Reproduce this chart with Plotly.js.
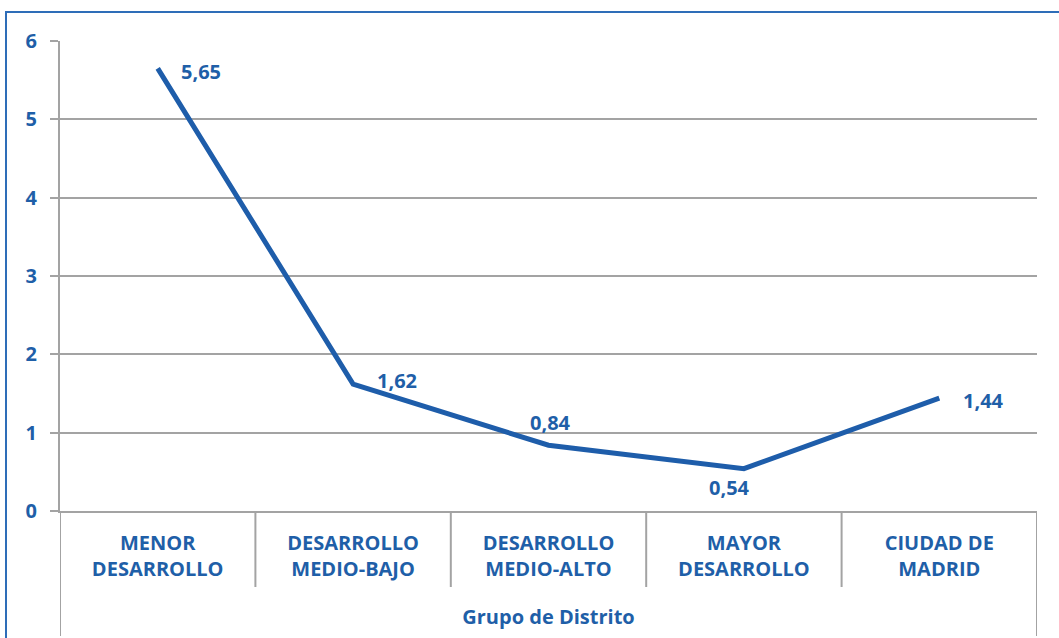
<!DOCTYPE html>
<html>
<head>
<meta charset="utf-8">
<script src="https://cdn.plot.ly/plotly-3.0.1.min.js"></script>
<style>
  html, body { margin: 0; padding: 0; background: #fff; }
  #wrap { position: relative; width: 1059px; height: 638px; overflow: hidden; }
  #chart { position: absolute; left: 0; top: 0; width: 1059px; height: 638px; }
  #frame { position: absolute; left: 5px; top: 11px; width: 1200px; height: 700px;
           border-left: 2px solid #2E6DB8; border-top: 2px solid #2E6DB8; pointer-events: none; }
</style>
</head>
<body>
<div id="wrap">
  <div id="chart"></div>
  <div id="frame"></div>
</div>
<script>
// ---- data ----
const categories = ['MENOR<br>DESARROLLO', 'DESARROLLO<br>MEDIO-BAJO', 'DESARROLLO<br>MEDIO-ALTO', 'MAYOR<br>DESARROLLO', 'CIUDAD DE<br>MADRID'];
const values = [5.65, 1.62, 0.84, 0.54, 1.44];
const xAxisTitle = 'Grupo de Distrito';
const yTickVals = [0, 1, 2, 3, 4, 5, 6];

// ---- styles ----
const blue = '#1E5DAA';
const textBlue = '#1F5FA8';
const gray = '#A3A3A3';
const font = 'Open Sans, Noto Sans, sans-serif';
const labelShiftX = [43, 44, 2, -14, 44];
const labelShiftY = [-3, 4, 23, -19, -2];

const trace = {
  type: 'scatter',
  mode: 'lines',
  x: categories,
  y: values,
  line: { color: blue, width: 5 },
  hoverinfo: 'skip'
};

const annotations = values.map((v, i) => ({
  x: categories[i], y: v, xref: 'x', yref: 'y',
  text: v.toFixed(2).replace('.', ','),
  showarrow: false,
  xshift: labelShiftX[i], yshift: labelShiftY[i],
  font: { family: font, size: 20, color: textBlue, weight: 700 }
}));

const shapes = [];
for (let i = 0; i <= categories.length; i++) {
  const edge = (i === 0 || i === categories.length);
  shapes.push({
    type: 'line', xref: 'x', yref: 'paper',
    ysizemode: 'pixel', yanchor: 0,
    x0: i - 0.5, x1: i - 0.5,
    y0: 0, y1: edge ? -125 : -76,
    line: { color: gray, width: 2 }
  });
}

const layout = {
  width: 1059, height: 638,
  margin: { l: 60, r: 22, t: 41, b: 127 },
  paper_bgcolor: 'rgba(0,0,0,0)',
  plot_bgcolor: '#fff',
  showlegend: false,
  xaxis: {
    type: 'category',
    range: [-0.5, categories.length - 0.5],
    showgrid: false, zeroline: false,
    showline: true, linecolor: gray, linewidth: 2,
    ticks: '',
    ticklabelstandoff: 13,
    tickfont: { family: font, size: 20, color: textBlue, weight: 700 },
    title: { text: xAxisTitle, standoff: 29, font: { family: font, size: 20, color: textBlue, weight: 700 } },
    automargin: false,
    fixedrange: true
  },
  yaxis: {
    range: [0, 6],
    tickvals: yTickVals,
    showgrid: true, gridcolor: gray, gridwidth: 2,
    zeroline: false,
    showline: true, linecolor: gray, linewidth: 2,
    ticks: 'outside', ticklen: 8, tickcolor: gray, tickwidth: 2,
    ticklabelstandoff: 9,
    tickfont: { family: font, size: 20, color: textBlue, weight: 700 },
    automargin: false,
    fixedrange: true
  },
  annotations: annotations,
  shapes: shapes
};

Plotly.newPlot('chart', [trace], layout, { staticPlot: true, displayModeBar: false });
</script>
</body>
</html>
